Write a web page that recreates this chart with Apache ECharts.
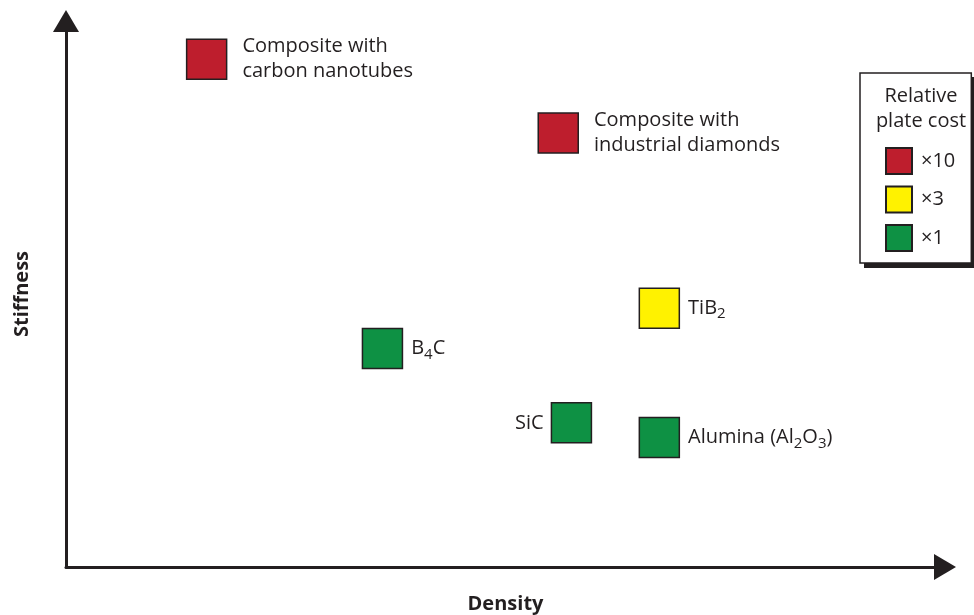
<!DOCTYPE html>
<html>
<head>
<meta charset="utf-8">
<script src="https://cdn.jsdelivr.net/npm/echarts@6/dist/echarts.min.js"></script>
<style>
html,body{margin:0;padding:0;background:#fff;}
#c{width:974px;height:615px;}
</style>
</head>
<body>
<div id="c"></div>
<script>
// ---- data ----
const materials = ['Composite with\ncarbon nanotubes', 'Composite with\nindustrial diamonds', 'TiB2', 'B4C', 'SiC', 'Alumina (Al2O3)'];
const density   = [16.0, 56.0, 67.5, 36.0, 57.5, 67.5];
const stiffness = [93.0, 79.5, 47.4, 40.0, 26.4, 23.7];
const costClass = ['×10', '×10', '×3', '×1', '×1', '×1'];
const costLevels = ['×10', '×3', '×1'];
const costColors = ['#BE1E2D', '#FFF200', '#0E9144'];
const xAxisName = 'Density';
const yAxisName = 'Stiffness';
const legendTitle = 'Relative\nplate cost';

const FONT = 'Open Sans';
const INK = '#231F20';

function richLabel(s) {
  return s.replace(/([A-Za-z])(\d)/g, '$1{sub|$2}');
}

const series = costLevels.map((lvl, k) => ({
  name: lvl,
  type: 'scatter',
  symbol: 'rect',
  symbolSize: 40,
  itemStyle: { color: costColors[k], borderColor: INK, borderWidth: 1.5, opacity: 1 },
  label: {
    show: true,
    color: INK,
    fontFamily: FONT,
    fontSize: 20,
    lineHeight: 25,
    formatter: p => richLabel(p.name),
    rich: {
      sub: { fontFamily: FONT, fontSize: 15, color: INK, padding: [12, 0, 0, 0] }
    }
  },
  emphasis: { disabled: true },
  data: materials.map((m, i) => ({ m, i })).filter(o => costClass[o.i] === lvl).map(o => {
    const left = o.m === 'SiC';
    const multi = o.m.indexOf('\n') >= 0;
    return {
      name: o.m,
      value: [density[o.i], stiffness[o.i]],
      label: { position: left ? 'left' : 'right', distance: left ? 7 : (multi ? 15 : 8) }
    };
  })
}));

const chart = echarts.init(document.getElementById('c'), null, { renderer: 'canvas' });
chart.setOption({
  animation: false,
  backgroundColor: '#fff',
  grid: { left: 66, top: 21, right: 29, bottom: 48, containLabel: false, outerBoundsMode: 'none' },
  xAxis: {
    type: 'value', min: 0, max: 100,
    name: xAxisName, nameLocation: 'middle', nameGap: 27,
    nameTextStyle: { fontFamily: FONT, fontWeight: 'bold', fontSize: 20, color: INK },
    axisLine: { show: true, symbol: ['none', 'triangle'], symbolSize: [26, 22], lineStyle: { color: INK, width: 3 } },
    axisTick: { show: false }, axisLabel: { show: false }, splitLine: { show: false }
  },
  yAxis: {
    type: 'value', min: 0, max: 100,
    name: yAxisName, nameLocation: 'middle', nameGap: 34,
    nameTextStyle: { fontFamily: FONT, fontWeight: 'bold', fontSize: 20, color: INK },
    axisLine: { show: true, symbol: ['none', 'triangle'], symbolSize: [26, 22], lineStyle: { color: INK, width: 3 } },
    axisTick: { show: false }, axisLabel: { show: false }, splitLine: { show: false }
  },
  legend: {
    data: costLevels,
    orient: 'vertical',
    left: 860, top: 73,
    padding: [74, 16, 11, 25],
    itemWidth: 26, itemHeight: 26, itemGap: 10.5,
    icon: 'rect',
    z: 10,
    backgroundColor: '#fff',
    borderColor: INK, borderWidth: 1.5,
    textStyle: { fontFamily: FONT, fontSize: 20, color: INK, padding: [0, 0, 0, 4] },
    selectedMode: false
  },
  graphic: [{
    type: 'rect', z: 1,
    shape: { x: 864, y: 77, width: 120, height: 191 },
    style: { fill: INK }
  }, {
    type: 'text', z: 100,
    x: 921, y: 84,
    style: { text: legendTitle, fill: INK, font: '20px "Open Sans"', lineHeight: 25, textAlign: 'center', textVerticalAlign: 'top' }
  }],
  series: series
});
</script>
</body>
</html>
